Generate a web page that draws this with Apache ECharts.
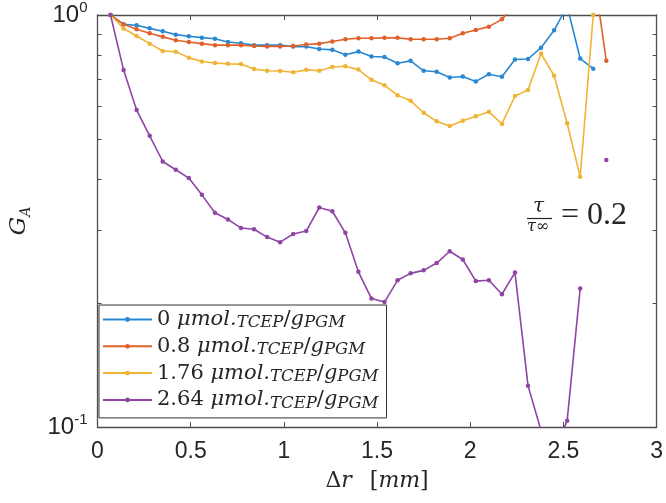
<!DOCTYPE html>
<html>
<head>
<meta charset="utf-8">
<script src="https://cdn.jsdelivr.net/npm/echarts@6/dist/echarts.min.js"></script>
<style>
  html, body { margin: 0; padding: 0; background: #fff; }
  #chart { width: 666px; height: 503px; }
</style>
</head>
<body>
<div id="chart"></div>
<script>
// radial offset [mm]
const xVals = [0.07, 0.14, 0.21, 0.28, 0.35, 0.42, 0.49, 0.56, 0.63, 0.70,
  0.77, 0.84, 0.91, 0.98, 1.05, 1.12, 1.19, 1.26, 1.33, 1.40,
  1.47, 1.54, 1.61, 1.68, 1.75, 1.82, 1.89, 1.96, 2.03, 2.10,
  2.17, 2.24, 2.31, 2.38, 2.45, 2.52, 2.59, 2.66, 2.73];

// G_A for each TCEP loading (null = no point)
const g0 = [1.0, 0.949, 0.944, 0.928, 0.913, 0.896, 0.888, 0.881, 0.876, 0.860,
  0.854, 0.845, 0.845, 0.845, 0.838, 0.838, 0.827, 0.823, 0.801, 0.815,
  0.793, 0.791, 0.764, 0.774, 0.732, 0.728, 0.705, 0.709, 0.690, 0.718,
  0.708, 0.780, 0.782, 0.833, 0.918, 1.05, 0.784, 0.741];
const g08 = [1.0, 0.949, 0.923, 0.903, 0.885, 0.868, 0.860, 0.852, 0.845, 0.845,
  0.845, 0.841, 0.839, 0.839, 0.841, 0.848, 0.852, 0.862, 0.873, 0.878,
  0.878, 0.880, 0.880, 0.873, 0.873, 0.873, 0.878, 0.903, 0.920, 0.937,
  0.976, 1.06, 1.12, 1.18, 1.25, 1.30, 1.32, 1.29, 0.774];
const g176 = [1.0, 0.927, 0.889, 0.852, 0.818, 0.814, 0.788, 0.771, 0.765, 0.761,
  0.760, 0.739, 0.732, 0.731, 0.726, 0.736, 0.732, 0.748, 0.751, 0.737,
  0.696, 0.675, 0.639, 0.619, 0.579, 0.552, 0.538, 0.554, 0.568, 0.582,
  0.544, 0.636, 0.658, 0.806, 0.712, 0.546, 0.405, 1.0];
const g264 = [1.0, 0.735, 0.588, 0.509, 0.441, 0.421, 0.402, 0.366, 0.331, 0.319,
  0.304, 0.302, 0.289, 0.281, 0.294, 0.299, 0.341, 0.334, 0.296, 0.238,
  0.205, 0.201, 0.227, 0.236, 0.240, 0.250, 0.267, 0.255, 0.226, 0.227,
  0.210, 0.237, 0.126, 0.098, 0.087, 0.1036, 0.217, null, 0.445];

const loadings = ['0', '0.8', '1.76', '2.64'];
const yTickVals = [0.1, 0.2, 0.3, 0.4, 0.5, 0.6, 0.7, 0.8, 0.9, 1.0];

const colors = ['#2a88d2', '#e0602a', '#f0b434', '#8e45a4'];
const axisColor = '#4d4d4d';
const textColor = '#262626';
const serif = 'DejaVu Serif';

const chart = echarts.init(document.getElementById('chart'), null, { renderer: 'canvas' });

function toPairs(vals) {
  return vals.map((v, k) => [xVals[k], v]);
}

const allSeries = [g0, g08, g176, g264];

var option = {
  animation: false,
  backgroundColor: '#fff',
  color: colors,
  grid: { left: 94, right: 8, top: 14, bottom: 76 },
  legend: {
    orient: 'vertical',
    left: 99,
    top: 305,
    padding: [4, 8, 6, 3],
    itemGap: 4.3,
    itemWidth: 49,
    itemHeight: 6,
    borderColor: '#333',
    borderWidth: 1,
    backgroundColor: '#fff',
    data: loadings,
    formatter: function (name) {
      return '{n|' + name + ' }{i|\u03bcmol.}{s|TCEP}{n|/}{i|g}{s|PGM}';
    },
    textStyle: {
      rich: {
        n: { fontFamily: serif, fontSize: 21, color: textColor, lineHeight: 24 },
        i: { fontFamily: serif, fontStyle: 'italic', fontSize: 21, color: textColor, lineHeight: 24 },
        s: { fontFamily: serif, fontStyle: 'italic', fontSize: 16.5, color: textColor,
             verticalAlign: 'bottom', lineHeight: 14 }
      }
    }
  },
  xAxis: [{
    type: 'value',
    min: 0,
    max: 3,
    interval: 0.5,
    position: 'bottom',
    axisLine: { show: true, onZero: false, lineStyle: { color: axisColor, width: 1.3 } },
    axisTick: { show: true, inside: true, length: 5, lineStyle: { color: axisColor } },
    axisLabel: { color: textColor, fontFamily: 'Liberation Sans', fontSize: 23, margin: 13 },
    splitLine: { show: false },
    name: '{n|\u0394}{i|r}{n|\u2002 [}{i|mm}{n|]}',
    nameLocation: 'middle',
    nameGap: 43,
    nameTextStyle: {
      rich: {
        n: { fontFamily: serif, fontSize: 22, color: textColor },
        i: { fontFamily: serif, fontStyle: 'italic', fontSize: 22, color: textColor }
      }
    }
  }, {
    type: 'value',
    min: 0,
    max: 3,
    interval: 0.5,
    position: 'top',
    axisLine: { show: true, onZero: false, lineStyle: { color: axisColor, width: 1.3 } },
    axisTick: { show: true, inside: true, length: 5, lineStyle: { color: axisColor } },
    axisLabel: { show: false },
    splitLine: { show: false }
  }],
  yAxis: [{
    type: 'log',
    logBase: 10,
    min: 0.1,
    max: 1,
    position: 'left',
    axisLine: { show: true, onZero: false, lineStyle: { color: axisColor, width: 1.3 } },
    axisTick: { show: true, inside: true, length: 4, customValues: yTickVals, lineStyle: { color: axisColor } },
    axisLabel: {
      margin: 10,
      formatter: function (v) {
        return '{b|10}{p|' + Math.round(Math.log10(v)) + '}';
      },
      rich: {
        b: { fontFamily: 'Liberation Sans', fontSize: 24, color: textColor, lineHeight: 30 },
        p: { fontFamily: 'Liberation Sans', fontSize: 15, color: textColor, verticalAlign: 'top', lineHeight: 14 }
      }
    },
    splitLine: { show: false },
    name: '{i|G}{s|A}',
    nameLocation: 'middle',
    nameGap: 64,
    nameTextStyle: {
      rich: {
        i: { fontFamily: serif, fontStyle: 'italic', fontSize: 23, color: textColor, lineHeight: 28 },
        s: { fontFamily: serif, fontStyle: 'italic', fontSize: 14, color: textColor,
             verticalAlign: 'bottom', lineHeight: 13 }
      }
    }
  }, {
    type: 'log',
    logBase: 10,
    min: 0.1,
    max: 1,
    position: 'right',
    axisLine: { show: true, onZero: false, lineStyle: { color: axisColor, width: 1.3 } },
    axisTick: { show: true, inside: true, length: 4, customValues: yTickVals, lineStyle: { color: axisColor } },
    axisLabel: { show: false },
    splitLine: { show: false }
  }],
  graphic: [
    { type: 'text', left: 533, top: 197,
      style: { text: '\u03c4', font: 'italic 20px "DejaVu Serif"', fill: textColor } },
    { type: 'line', shape: { x1: 527, y1: 218.5, x2: 552, y2: 218.5 },
      style: { stroke: textColor, lineWidth: 1.2 } },
    { type: 'text', left: 527, top: 219,
      style: { text: '\u03c4\u221e', font: 'italic 16px "DejaVu Serif"', fill: textColor } },
    { type: 'text', left: 561, top: 200,
      style: { text: '= 0.2', font: '32px "Liberation Serif"', fill: textColor } }
  ],
  series: allSeries.map((vals, k) => ({
    name: loadings[k],
    type: 'line',
    data: toPairs(vals),
    xAxisIndex: 0,
    yAxisIndex: 0,
    symbol: 'circle',
    symbolSize: 4.5,
    showSymbol: true,
    clip: true,
    connectNulls: false,
    lineStyle: { width: 1.6 },
    itemStyle: { color: colors[k] }
  }))
};

chart.setOption(option);
</script>
</body>
</html>
